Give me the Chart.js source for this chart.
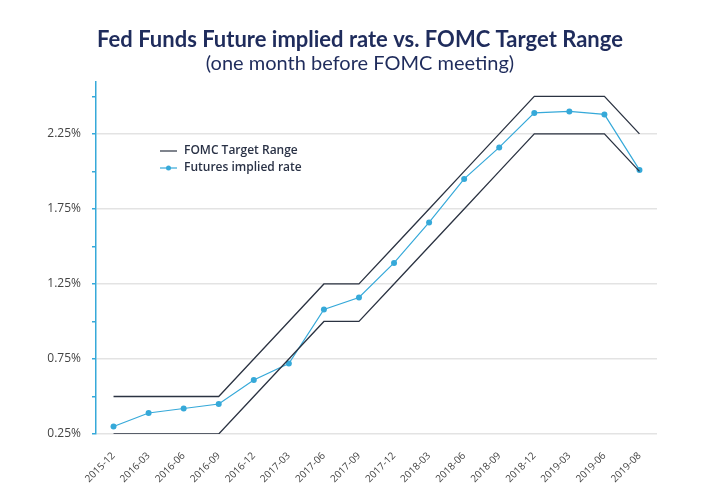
<!DOCTYPE html>
<html>
<head>
<meta charset="utf-8">
<script src="https://cdn.jsdelivr.net/npm/chart.js@4.4.1/dist/chart.umd.min.js"></script>
<style>
  html, body { margin: 0; padding: 0; background: #fff; }
  #wrap { width: 720px; height: 500px; position: relative; }
</style>
</head>
<body>
<div id="wrap"><canvas id="fedChart"></canvas></div>
<script>
// data
var months = ['2015-12', '2016-03', '2016-06', '2016-09', '2016-12', '2017-03', '2017-06', '2017-09',
              '2017-12', '2018-03', '2018-06', '2018-09', '2018-12', '2019-03', '2019-06', '2019-08'];
var targetUpper = [0.50, 0.50, 0.50, 0.50, 0.75, 1.00, 1.25, 1.25, 1.50, 1.75, 2.00, 2.25, 2.50, 2.50, 2.50, 2.25];
var targetLower = [0.25, 0.25, 0.25, 0.25, 0.50, 0.75, 1.00, 1.00, 1.25, 1.50, 1.75, 2.00, 2.25, 2.25, 2.25, 2.00];
var futuresRate = [0.30, 0.39, 0.42, 0.45, 0.61, 0.72, 1.08, 1.16, 1.39, 1.66, 1.95, 2.16, 2.39, 2.40, 2.38, 2.01];
var legendLabels = ['FOMC Target Range', 'Futures implied rate'];

var navy = '#1f2c5c';
var blue = '#36a9d9';
var dark = '#2b3342';

// legend drawn inside the plot, top left
var insideLegend = {
    id: 'insideLegend',
    afterDraw: function(chart){
        var ctx = chart.ctx;
        ctx.save();
        ctx.font = '600 12px "Open Sans"';
        ctx.fillStyle = '#2a3246';
        ctx.textBaseline = 'middle';
        ctx.lineWidth = 1.2;
        // range
        ctx.strokeStyle = dark;
        ctx.beginPath(); ctx.moveTo(160, 151); ctx.lineTo(177, 151); ctx.stroke();
        ctx.fillText(legendLabels[0], 184, 151);
        // futures
        ctx.strokeStyle = blue;
        ctx.beginPath(); ctx.moveTo(160, 168); ctx.lineTo(177, 168); ctx.stroke();
        ctx.fillStyle = blue;
        ctx.beginPath(); ctx.arc(168.5, 168, 2.5, 0, Math.PI * 2); ctx.fill();
        ctx.fillStyle = '#2a3246';
        ctx.fillText(legendLabels[1], 184, 168);
        ctx.restore();
    }
};

function isMajor(v){
    var k = (v - 0.25) / 0.5;
    return Math.abs(k - Math.round(k)) < 1e-6;
}

var ctx = document.getElementById('fedChart').getContext('2d');
var myChart = new Chart(ctx, {
    type: 'line',
    plugins: [insideLegend],
    data: {
        labels: months,
        datasets: [
            {
                label: legendLabels[0],
                data: targetUpper,
                borderColor: dark,
                borderWidth: 1.3,
                pointRadius: 0,
                tension: 0
            },
            {
                label: legendLabels[0] + ' (lower)',
                data: targetLower,
                borderColor: dark,
                borderWidth: 1.3,
                pointRadius: 0,
                tension: 0
            },
            {
                label: legendLabels[1],
                data: futuresRate,
                borderColor: blue,
                backgroundColor: blue,
                borderWidth: 1.2,
                pointRadius: 3,
                pointBorderWidth: 0,
                tension: 0
            }
        ]
    },
    options: {
        responsive: true,
        maintainAspectRatio: false,
        animation: false,
        layout: {
            padding: 0
        },
        plugins: {
            legend: { display: false },
            tooltip: { enabled: false },
            title: {
                display: true,
                text: 'Fed Funds Future implied rate vs. FOMC Target Range',
                color: navy,
                font: { family: 'Lato', size: 22, weight: 'bold' },
                padding: { top: 27, bottom: 0 }
            },
            subtitle: {
                display: true,
                text: '(one month before FOMC meeting)',
                color: navy,
                font: { family: 'Lato', size: 20, weight: 'normal' },
                padding: { top: -2, bottom: 6 }
            }
        },
        scales: {
            x: {
                offset: true,
                grid: { display: false },
                border: { display: false },
                ticks: {
                    autoSkip: false,
                    minRotation: 45,
                    maxRotation: 45,
                    padding: 8,
                    color: '#444',
                    font: { family: 'Open Sans', size: 10 }
                },
                afterFit: function(scale){ scale.height = 66; }
            },
            y: {
                min: 0.25,
                max: 2.6,
                border: { display: true, color: blue, width: 1.5 },
                grid: {
                    color: function(c){ return c.tick && isMajor(c.tick.value) ? '#e3e3e3' : 'rgba(0,0,0,0)'; },
                    tickColor: blue,
                    tickLength: 4,
                    lineWidth: 1.5
                },
                ticks: {
                    stepSize: 0.25,
                    includeBounds: false,
                    padding: 11,
                    color: '#444',
                    font: { family: 'Open Sans', size: 12 },
                    callback: function(v){ return isMajor(v) ? v.toFixed(2) + '%' : ''; }
                },
                afterFit: function(scale){ scale.width = 96; }
            },
            // empty right axis, only keeps the right margin so the title stays centred on the page
            yRight: {
                position: 'right',
                grid: { display: false },
                border: { display: false },
                ticks: { display: false },
                afterFit: function(scale){ scale.width = 63; }
            }
        }
    }
});
</script>
</body>
</html>
